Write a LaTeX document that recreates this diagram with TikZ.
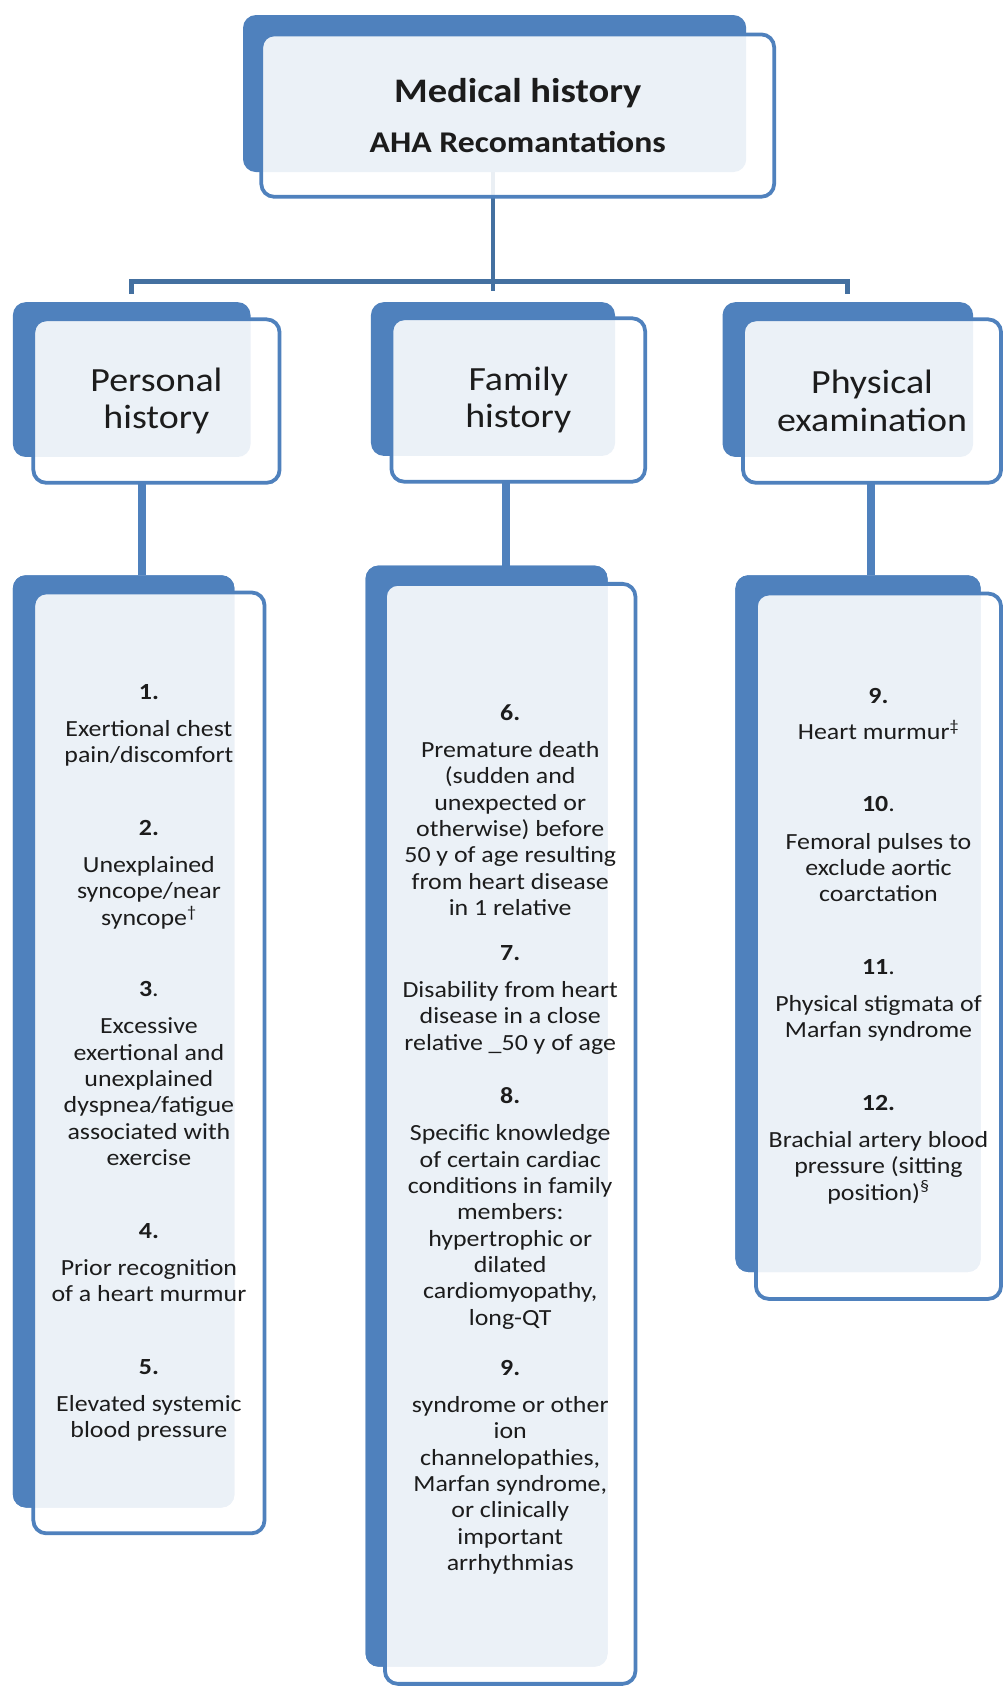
\documentclass[tikz,border=0pt]{standalone}
\usepackage{fontspec}
\setmainfont{Carlito}[FakeStretch=1.12]
\usetikzlibrary{calc}
\definecolor{bblue}{RGB}{79,129,189}
\definecolor{cblue}{RGB}{68,112,160}
\definecolor{txt}{RGB}{28,28,28}
\tikzset{
  backbox/.style={fill=bblue, draw=none, rounded corners=12pt, inner sep=0pt, outer sep=0pt},
  frontbox/.style={draw=bblue, line width=3.5pt, fill=white, fill opacity=0.89, text opacity=1,
    rounded corners=12pt, text=txt, align=center, inner sep=0pt, outer sep=0pt},
  conna/.style={draw=cblue, line width=4.5pt},
  connb/.style={draw=bblue, line width=7.5pt},
  headfont/.style={font=\fontsize{31.5}{35}\selectfont},
  itemfont/.style={font=\fontsize{21.5}{24.5}\selectfont},
}
\begin{document}
\begin{tikzpicture}[x=1pt,y=-1pt]
\useasboundingbox (0,0) rectangle (933,1568);
\fill[white] (0,0) rectangle (933,1568);

% --- back boxes ---
\path
  (460,87) node[backbox, minimum width=468pt, minimum height=146pt] (topB) {}
  (122.5,353) node[backbox, minimum width=221pt, minimum height=144pt] (perB) {}
  (458.5,352.5) node[backbox, minimum width=227pt, minimum height=143pt] (famB) {}
  (788.5,353) node[backbox, minimum width=233pt, minimum height=144pt] (phyB) {}
  (115,968.5) node[backbox, minimum width=206pt, minimum height=867pt] (perC) {}
  (452.5,1038) node[backbox, minimum width=225pt, minimum height=1024pt] (famC) {}
  (798,859) node[backbox, minimum width=228pt, minimum height=648pt] (phyC) {};

% --- connectors ---
\coordinate (bar) at (0,262);
\draw[conna] ([xshift=-1.5pt]topB.south) -- ([yshift=10pt]famB.north);
\draw[conna] ([yshift=8pt]perB.north) -- (perB.north |- bar) -- (phyB.north |- bar) -- ([yshift=8pt]phyB.north);

% --- top box ---
\node[frontbox, minimum width=477pt, minimum height=151pt] (topF) at (481.5,107.5)
  {\fontsize{32}{36}\selectfont\bfseries Medical history\\[21pt]
   \fontsize{28}{32}\selectfont\bfseries AHA Recomantations};

% --- level 2 ---
\node[frontbox, headfont, minimum width=229pt, minimum height=152pt] (perF) at (145.5,373) {Personal\\history};
\node[frontbox, headfont, minimum width=236pt, minimum height=152pt] (famF) at (482,372) {Family\\history};
\node[frontbox, headfont, minimum width=240pt, minimum height=152pt] (phyF) at (811,373) {Physical\\examination};

\draw[connb] ([xshift=-13.5pt]perF.south) -- ([xshift=-13.5pt]perF.south |- perC.north);
\draw[connb] ([xshift=-11pt]famF.south) -- ([xshift=-11pt]famF.south |- famC.north);
\draw[connb] ([xshift=-1pt]phyF.south) -- ([xshift=-1pt]phyF.south |- phyC.north);

% redraw level-3 back boxes on top of connectors
\fill[bblue, rounded corners=12pt] (perC.north west) rectangle (perC.south east);
\fill[bblue, rounded corners=12pt] (famC.north west) rectangle (famC.south east);
\fill[bblue, rounded corners=12pt] (phyC.north west) rectangle (phyC.south east);

% --- level 3 ---
\node[frontbox, itemfont, minimum width=215pt, minimum height=875pt] (perG) at (138.5,988.5) {%
\textbf{1.}\\[10pt]
Exertional chest\\
pain/discomfort\\[43pt]
\textbf{2.}\\[10pt]
Unexplained\\
syncope/near\\
syncope\textsuperscript{†}\\[42pt]
\textbf{3}.\\[10pt]
Excessive\\
exertional and\\
unexplained\\
dyspnea/fatigue\\
associated with\\
exercise\\[43pt]
\textbf{4.}\\[10pt]
Prior recognition\\
of a heart murmur\\[43pt]
\textbf{5.}\\[10pt]
Elevated systemic\\
blood pressure};

\node[frontbox, itemfont, minimum width=233pt, minimum height=1023pt] (famG) at (474.5,1054.5) {%
\mbox{}\\[1pt]
\textbf{6.}\\[9.5pt]
Premature death\\
(sudden and\\
unexpected or\\
otherwise) before\\
50 y of age resulting\\
from heart disease\\
in 1 relative\\[17.5pt]
\textbf{7.}\\[9.5pt]
Disability from heart\\
disease in a close\\
relative \_50 y of age\\[25.5pt]
\textbf{8.}\\[10pt]
Specific knowledge\\
of certain cardiac\\
conditions in family\\
members:\\
hypertrophic or\\
dilated\\
cardiomyopathy,\\
long-QT\\[22.5pt]
\textbf{9.}\\[9.5pt]
syndrome or other\\
ion\\
channelopathies,\\
Marfan syndrome,\\
or clinically\\
important\\
arrhythmias};

\node[frontbox, itemfont, minimum width=228pt, minimum height=656pt] (phyG) at (817,880) {%
\textbf{9.}\\[9pt]
Heart murmur\textsuperscript{‡}\\[42.5pt]
\textbf{10}.\\[10pt]
Femoral pulses to\\
exclude aortic\\
coarctation\\[43.5pt]
\textbf{11}.\\[9.5pt]
Physical stigmata of\\
Marfan syndrome\\[43.5pt]
\textbf{12.}\\[9.5pt]
Brachial artery blood\\
pressure (sitting\\
position)\textsuperscript{§}};
\end{tikzpicture}
\end{document}
